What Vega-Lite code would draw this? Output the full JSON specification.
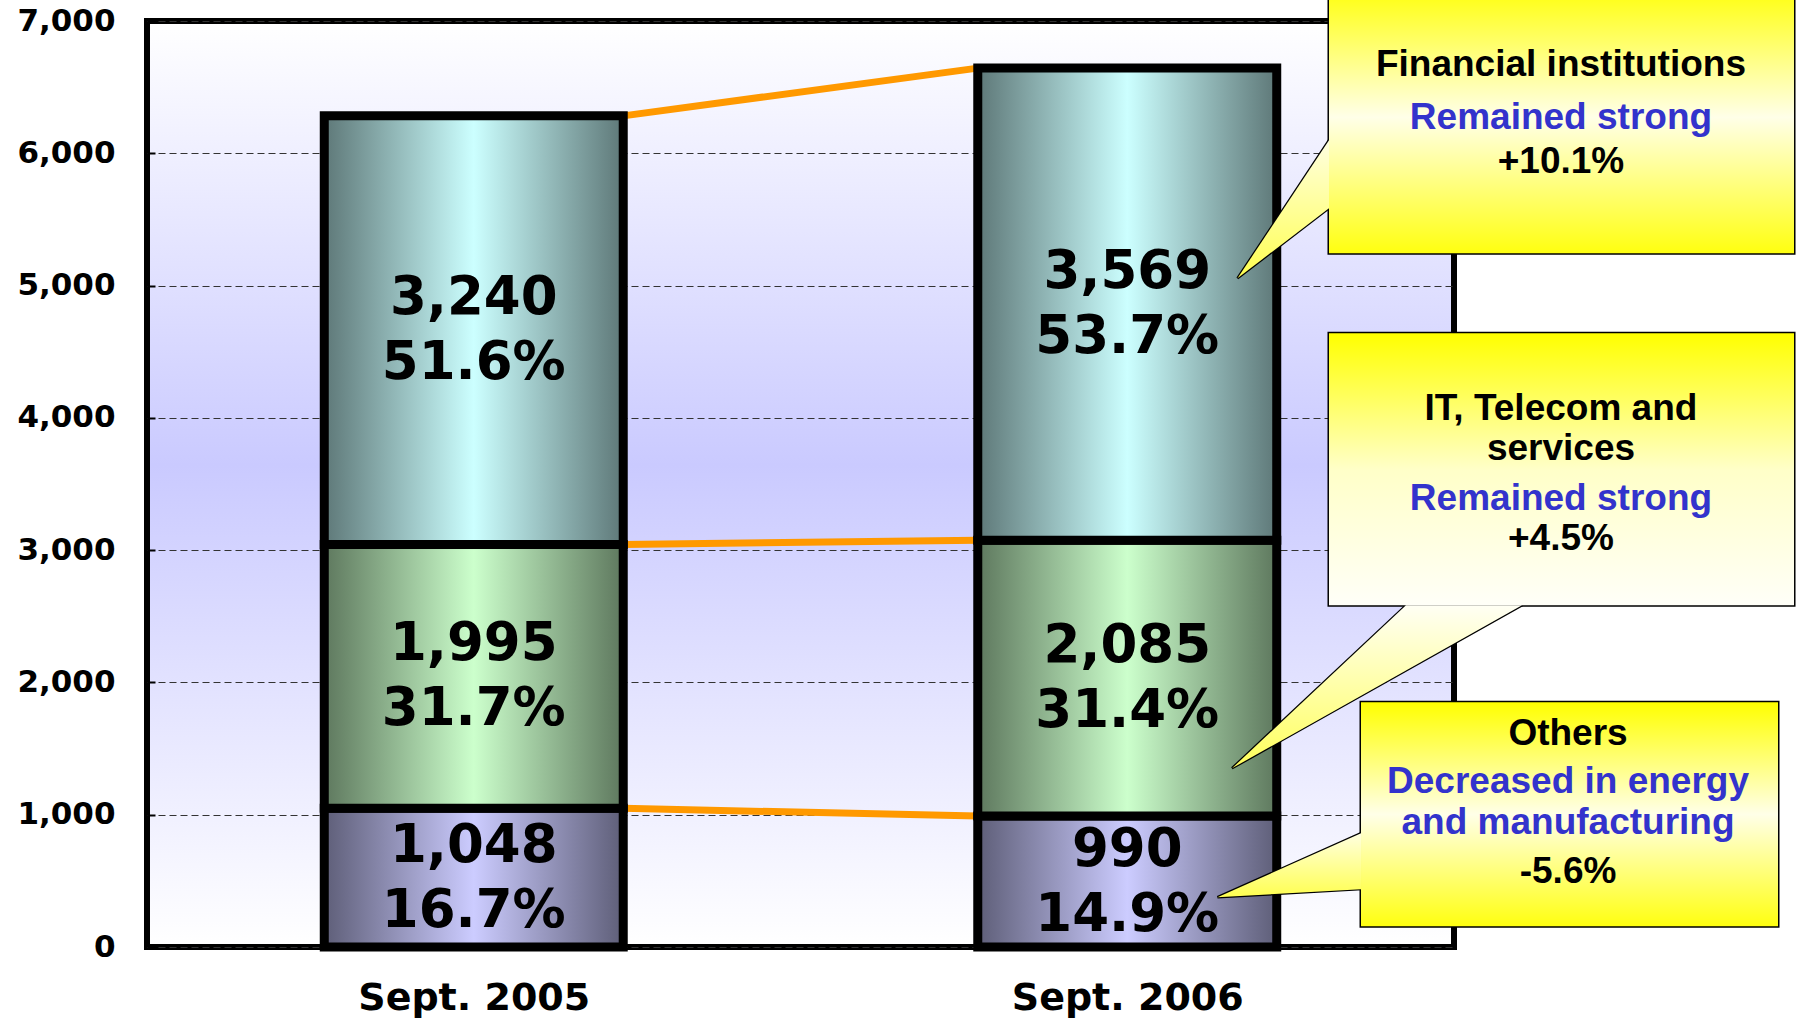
{
  "$schema": "https://vega.github.io/schema/vega-lite/v6.json",
  "width": 1307,
  "height": 926,
  "autosize": {"type": "none"},
  "padding": {"left": 147, "top": 21, "right": 343, "bottom": 73},
  "background": "#FFFFFF",
  "view": {
    "fill": {"gradient": "linear", "x1": 0, "y1": 0, "x2": 0, "y2": 1, "stops": [{"offset": 0, "color": "#FFFFFF"}, {"offset": 0.48, "color": "#CACAFF"}, {"offset": 1, "color": "#FFFFFF"}]},
    "stroke": "#000000",
    "strokeWidth": 6
  },
  "config": {
    "axisX": {"domain": false, "grid": false, "ticks": true, "tickBand": "extent", "tickSize": -10, "tickWidth": 3, "tickColor": "#000000",
      "labelFont": "DejaVu Sans", "labelFontWeight": "bold", "labelFontSize": 38, "labelColor": "#000000", "labelPadding": 72, "labelBaseline": "alphabetic", "labelAngle": 0, "labelLimit": 0},
    "axisY": {"domain": false, "ticks": true, "tickSize": -8, "tickWidth": 2, "tickColor": "#000000", "tickCount": 7,
      "grid": true, "gridColor": "#333333", "gridDash": [7, 4], "gridWidth": 1.2,
      "labelFont": "DejaVu Sans", "labelFontWeight": "bold", "labelFontSize": 31, "labelColor": "#000000", "labelPadding": 40,
      "labelFlush": false, "labelOverlap": false, "labelBound": false, "labelLimit": 0}
  },
  "datasets": {
    "main": [
      {"period": "Sept. 2005", "series": "Others", "order": 1, "value": 1048, "share": 0.167},
      {"period": "Sept. 2005", "series": "IT, Telecom and services", "order": 2, "value": 1995, "share": 0.317},
      {"period": "Sept. 2005", "series": "Financial institutions", "order": 3, "value": 3240, "share": 0.516},
      {"period": "Sept. 2006", "series": "Others", "order": 1, "value": 990, "share": 0.149},
      {"period": "Sept. 2006", "series": "IT, Telecom and services", "order": 2, "value": 2085, "share": 0.314},
      {"period": "Sept. 2006", "series": "Financial institutions", "order": 3, "value": 3569, "share": 0.537}
    ],
    "boxes": [
      {"id": "fin", "x0": 1.8087, "x1": 2.5203, "y0": 5244, "y1": 7300},
      {"id": "it", "x0": 1.8087, "x1": 2.5203, "y0": 2583, "y1": 4639},
      {"id": "oth", "x0": 1.8577, "x1": 2.4958, "y0": 156, "y1": 1850}
    ],
    "pointersV": [
      {"id": "fin", "x": 1.6687, "y0": 5055, "y1": 5055},
      {"id": "fin", "x": 1.8087, "y0": 6099, "y1": 5585},
      {"id": "oth", "x": 1.6381, "y0": 376, "y1": 376},
      {"id": "oth", "x": 1.8577, "y0": 860, "y1": 437}
    ],
    "pointersH": [
      {"id": "it", "y": 1351, "x0": 1.6603, "x1": 1.6603},
      {"id": "it", "y": 2583, "x0": 1.9265, "x1": 2.1041}
    ],
    "notes": [
      {"x": 2.1637, "y": 6582, "text": "Financial institutions", "kind": "heading"},
      {"x": 2.1637, "y": 6181, "text": "Remained strong", "kind": "trend"},
      {"x": 2.1637, "y": 5849, "text": "+10.1%", "kind": "change"},
      {"x": 2.1637, "y": 3981, "text": "IT, Telecom and", "kind": "heading"},
      {"x": 2.1637, "y": 3679, "text": "services", "kind": "heading"},
      {"x": 2.1637, "y": 3301, "text": "Remained strong", "kind": "trend"},
      {"x": 2.1637, "y": 2999, "text": "+4.5%", "kind": "change"},
      {"x": 2.1745, "y": 1525, "text": "Others", "kind": "heading"},
      {"x": 2.1745, "y": 1162, "text": "Decreased in energy", "kind": "trend"},
      {"x": 2.1745, "y": 852, "text": "and manufacturing", "kind": "trend"},
      {"x": 2.1745, "y": 482, "text": "-5.6%", "kind": "change"}
    ]
  },
  "layer": [
    {
      "data": {"name": "main"},
      "transform": [
        {"stack": "value", "groupby": ["period"], "sort": [{"field": "order", "order": "ascending"}], "as": ["v0", "v1"]}
      ],
      "layer": [
        {
          "transform": [{"pivot": "period", "value": "v1", "groupby": ["series"]}],
          "mark": {"type": "rule", "color": "#FF9900", "strokeWidth": 7, "strokeCap": "round"},
          "encoding": {
            "x": {"datum": "Sept. 2005", "type": "nominal", "bandPosition": 1, "title": null,
              "scale": {"type": "band", "paddingInner": 0.5425, "paddingOuter": 0.27125}},
            "x2": {"datum": "Sept. 2006", "bandPosition": 0},
            "y": {"field": "Sept\\. 2005", "type": "quantitative", "title": null, "scale": {"domain": [0, 7000], "nice": false, "zero": true}},
            "y2": {"field": "Sept\\. 2006"}
          }
        },
        {
          "transform": [{"filter": "datum.series === 'Others'"}],
          "mark": {"type": "bar", "stroke": "#000000", "strokeWidth": 9, "strokeJoin": "miter",
            "fill": {"gradient": "linear", "x1": 0, "y1": 0, "x2": 1, "y2": 0, "stops": [{"offset": 0, "color": "#5E5E78"}, {"offset": 0.5, "color": "#CCCCFF"}, {"offset": 1, "color": "#5E5E78"}]}},
          "encoding": {
            "x": {"field": "period", "type": "nominal", "title": null, "scale": {"type": "band", "paddingInner": 0.5425, "paddingOuter": 0.27125}},
            "y": {"field": "v0", "type": "quantitative", "title": null, "scale": {"domain": [0, 7000], "nice": false, "zero": true}},
            "y2": {"field": "v1"}
          }
        },
        {
          "transform": [{"filter": "datum.series === 'IT, Telecom and services'"}],
          "mark": {"type": "bar", "stroke": "#000000", "strokeWidth": 9, "strokeJoin": "miter",
            "fill": {"gradient": "linear", "x1": 0, "y1": 0, "x2": 1, "y2": 0, "stops": [{"offset": 0, "color": "#5E785E"}, {"offset": 0.5, "color": "#CCFFCC"}, {"offset": 1, "color": "#5E785E"}]}},
          "encoding": {
            "x": {"field": "period", "type": "nominal", "title": null, "scale": {"type": "band", "paddingInner": 0.5425, "paddingOuter": 0.27125}},
            "y": {"field": "v0", "type": "quantitative", "title": null, "scale": {"domain": [0, 7000], "nice": false, "zero": true}},
            "y2": {"field": "v1"}
          }
        },
        {
          "transform": [{"filter": "datum.series === 'Financial institutions'"}],
          "mark": {"type": "bar", "stroke": "#000000", "strokeWidth": 9, "strokeJoin": "miter",
            "fill": {"gradient": "linear", "x1": 0, "y1": 0, "x2": 1, "y2": 0, "stops": [{"offset": 0, "color": "#5E7878"}, {"offset": 0.5, "color": "#CCFFFF"}, {"offset": 1, "color": "#5E7878"}]}},
          "encoding": {
            "x": {"field": "period", "type": "nominal", "title": null, "scale": {"type": "band", "paddingInner": 0.5425, "paddingOuter": 0.27125}},
            "y": {"field": "v0", "type": "quantitative", "title": null, "scale": {"domain": [0, 7000], "nice": false, "zero": true}},
            "y2": {"field": "v1"}
          }
        },
        {
          "transform": [{"fold": ["v0", "v1"], "as": ["edge", "pos"]}],
          "mark": {"type": "text", "font": "DejaVu Sans", "fontWeight": "bold", "fontSize": 53, "baseline": "alphabetic", "align": "center", "dy": -16, "color": "#000000"},
          "encoding": {
            "x": {"field": "period", "type": "nominal", "title": null, "bandPosition": 0.5, "scale": {"type": "band", "paddingInner": 0.5425, "paddingOuter": 0.27125}},
            "y": {"aggregate": "mean", "field": "pos", "type": "quantitative", "title": null, "scale": {"domain": [0, 7000], "nice": false, "zero": true}},
            "text": {"field": "value", "type": "quantitative", "format": ","}
          }
        },
        {
          "transform": [{"fold": ["v0", "v1"], "as": ["edge", "pos"]}],
          "mark": {"type": "text", "font": "DejaVu Sans", "fontWeight": "bold", "fontSize": 53, "baseline": "alphabetic", "align": "center", "dy": 49, "color": "#000000"},
          "encoding": {
            "x": {"field": "period", "type": "nominal", "title": null, "bandPosition": 0.5, "scale": {"type": "band", "paddingInner": 0.5425, "paddingOuter": 0.27125}},
            "y": {"aggregate": "mean", "field": "pos", "type": "quantitative", "title": null, "scale": {"domain": [0, 7000], "nice": false, "zero": true}},
            "text": {"field": "share", "type": "quantitative", "format": ".1%"}
          }
        }
      ]
    },
    {
      "layer": [
        {
          "data": {"name": "pointersV"},
          "mark": {"type": "area", "orient": "vertical", "stroke": "#000000", "strokeWidth": 2.5,
            "fill": {"gradient": "linear", "x1": 0, "y1": 0, "x2": 0, "y2": 1, "stops": [{"offset": 0, "color": "#FFFFE0"}, {"offset": 1, "color": "#FFFF50"}]}},
          "encoding": {
            "x": {"field": "x", "type": "quantitative", "scale": {"domain": [0, 2], "nice": false, "zero": false}, "axis": null},
            "y": {"field": "y0", "type": "quantitative", "scale": {"domain": [0, 7000], "nice": false, "zero": true}, "axis": null},
            "y2": {"field": "y1"},
            "detail": {"field": "id", "type": "nominal"}
          }
        },
        {
          "data": {"name": "pointersH"},
          "mark": {"type": "area", "orient": "horizontal", "stroke": "#000000", "strokeWidth": 2.5,
            "fill": {"gradient": "linear", "x1": 0, "y1": 0, "x2": 0, "y2": 1, "stops": [{"offset": 0, "color": "#FFFFF4"}, {"offset": 1, "color": "#FFFF5A"}]}},
          "encoding": {
            "y": {"field": "y", "type": "quantitative", "scale": {"domain": [0, 7000], "nice": false, "zero": true}, "axis": null},
            "x": {"field": "x0", "type": "quantitative", "scale": {"domain": [0, 2], "nice": false, "zero": false}, "axis": null},
            "x2": {"field": "x1"},
            "detail": {"field": "id", "type": "nominal"}
          }
        },
        {
          "data": {"name": "boxes"},
          "transform": [{"filter": "datum.id !== 'it'"}],
          "mark": {"type": "rect", "stroke": "#000000", "strokeWidth": 3,
            "fill": {"gradient": "linear", "x1": 0, "y1": 0, "x2": 0, "y2": 1, "stops": [{"offset": 0, "color": "#FFFF00"}, {"offset": 0.5, "color": "#FFFFE8"}, {"offset": 1, "color": "#FFFF10"}]}},
          "encoding": {
            "x": {"field": "x0", "type": "quantitative", "scale": {"domain": [0, 2], "nice": false, "zero": false}, "axis": null},
            "x2": {"field": "x1"},
            "y": {"field": "y0", "type": "quantitative", "scale": {"domain": [0, 7000], "nice": false, "zero": true}, "axis": null},
            "y2": {"field": "y1"}
          }
        },
        {
          "data": {"name": "boxes"},
          "transform": [{"filter": "datum.id === 'it'"}],
          "mark": {"type": "rect", "stroke": "#000000", "strokeWidth": 3,
            "fill": {"gradient": "linear", "x1": 0, "y1": 0, "x2": 0, "y2": 1, "stops": [{"offset": 0, "color": "#FFFF00"}, {"offset": 0.5, "color": "#FFFFC8"}, {"offset": 1, "color": "#FFFFF8"}]}},
          "encoding": {
            "x": {"field": "x0", "type": "quantitative", "scale": {"domain": [0, 2], "nice": false, "zero": false}, "axis": null},
            "x2": {"field": "x1"},
            "y": {"field": "y0", "type": "quantitative", "scale": {"domain": [0, 7000], "nice": false, "zero": true}, "axis": null},
            "y2": {"field": "y1"}
          }
        },
        {
          "data": {"name": "pointersV"},
          "mark": {"type": "area", "orient": "vertical", "strokeWidth": 0,
            "fill": {"gradient": "linear", "x1": 0, "y1": 0, "x2": 0, "y2": 1, "stops": [{"offset": 0, "color": "#FFFFE0"}, {"offset": 1, "color": "#FFFF50"}]}},
          "encoding": {
            "x": {"field": "x", "type": "quantitative", "scale": {"domain": [0, 2], "nice": false, "zero": false}, "axis": null},
            "y": {"field": "y0", "type": "quantitative", "scale": {"domain": [0, 7000], "nice": false, "zero": true}, "axis": null},
            "y2": {"field": "y1"},
            "detail": {"field": "id", "type": "nominal"}
          }
        },
        {
          "data": {"name": "pointersH"},
          "mark": {"type": "area", "orient": "horizontal", "strokeWidth": 0,
            "fill": {"gradient": "linear", "x1": 0, "y1": 0, "x2": 0, "y2": 1, "stops": [{"offset": 0, "color": "#FFFFF4"}, {"offset": 1, "color": "#FFFF5A"}]}},
          "encoding": {
            "y": {"field": "y", "type": "quantitative", "scale": {"domain": [0, 7000], "nice": false, "zero": true}, "axis": null},
            "x": {"field": "x0", "type": "quantitative", "scale": {"domain": [0, 2], "nice": false, "zero": false}, "axis": null},
            "x2": {"field": "x1"},
            "detail": {"field": "id", "type": "nominal"}
          }
        },
        {
          "data": {"name": "boxes"},
          "transform": [{"filter": "datum.id !== 'it'"}],
          "mark": {"type": "rect", "strokeWidth": 0,
            "fill": {"gradient": "linear", "x1": 0, "y1": 0, "x2": 0, "y2": 1, "stops": [{"offset": 0, "color": "#FFFF00"}, {"offset": 0.5, "color": "#FFFFE8"}, {"offset": 1, "color": "#FFFF10"}]}},
          "encoding": {
            "x": {"field": "x0", "type": "quantitative", "scale": {"domain": [0, 2], "nice": false, "zero": false}, "axis": null},
            "x2": {"field": "x1"},
            "y": {"field": "y0", "type": "quantitative", "scale": {"domain": [0, 7000], "nice": false, "zero": true}, "axis": null},
            "y2": {"field": "y1"}
          }
        },
        {
          "data": {"name": "boxes"},
          "transform": [{"filter": "datum.id === 'it'"}],
          "mark": {"type": "rect", "strokeWidth": 0,
            "fill": {"gradient": "linear", "x1": 0, "y1": 0, "x2": 0, "y2": 1, "stops": [{"offset": 0, "color": "#FFFF00"}, {"offset": 0.5, "color": "#FFFFC8"}, {"offset": 1, "color": "#FFFFF8"}]}},
          "encoding": {
            "x": {"field": "x0", "type": "quantitative", "scale": {"domain": [0, 2], "nice": false, "zero": false}, "axis": null},
            "x2": {"field": "x1"},
            "y": {"field": "y0", "type": "quantitative", "scale": {"domain": [0, 7000], "nice": false, "zero": true}, "axis": null},
            "y2": {"field": "y1"}
          }
        },
        {
          "data": {"name": "notes"},
          "mark": {"type": "text", "font": "Liberation Sans", "fontWeight": "bold", "fontSize": 37, "baseline": "alphabetic", "align": "center"},
          "encoding": {
            "x": {"field": "x", "type": "quantitative", "scale": {"domain": [0, 2], "nice": false, "zero": false}, "axis": null},
            "y": {"field": "y", "type": "quantitative", "scale": {"domain": [0, 7000], "nice": false, "zero": true}, "axis": null},
            "text": {"field": "text", "type": "nominal"},
            "color": {"field": "kind", "type": "nominal", "scale": {"domain": ["heading", "trend", "change"], "range": ["#000000", "#3333CC", "#000000"]}, "legend": null}
          }
        }
      ]
    }
  ],
  "resolve": {"scale": {"x": "independent", "y": "independent"}}
}
